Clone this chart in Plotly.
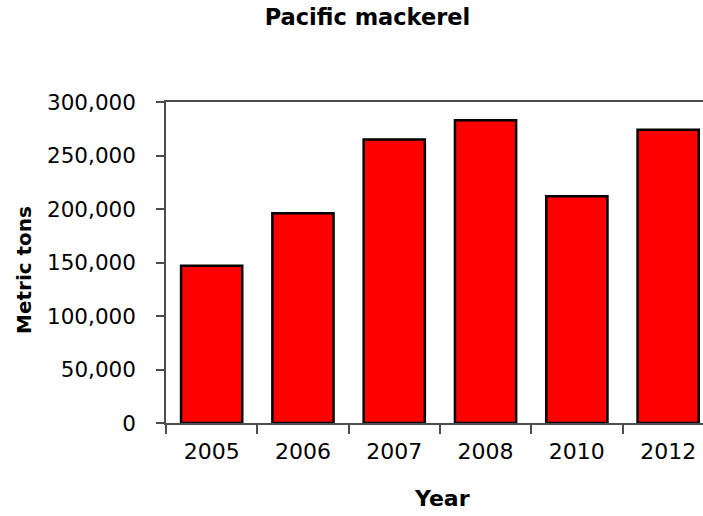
import plotly.graph_objects as go

# Pacific mackerel landings by year (metric tons)
years = ["2005", "2006", "2007", "2008", "2010", "2012"]
tons = [147000, 196000, 265000, 283000, 212000, 274000]
y_ticks = [0, 50000, 100000, 150000, 200000, 250000, 300000]
y_tick_text = ["0", "50,000", "100,000", "150,000", "200,000", "250,000", "300,000"]

FONT = "DejaVu Sans, Liberation Sans, Arial, sans-serif"
W, H = 703, 516
ML, MT, MB, MR = 166, 102, 93, 0

fig = go.Figure(
    go.Bar(
        x=years,
        y=tons,
        marker=dict(color="#FF0000", line=dict(color="#000000", width=2.5)),
    )
)

# full category slot is ~91 px; the last slot runs a little past the page edge
slot = 91.3
x_hi = -0.5 + (W - ML) / slot

fig.update_layout(
    width=W,
    height=H,
    margin=dict(l=ML, r=MR, t=MT, b=MB, pad=0),
    paper_bgcolor="white",
    plot_bgcolor="white",
    bargap=0.33,
    showlegend=False,
    font=dict(family=FONT, color="#000000"),
    title=dict(
        text="<b>Pacific mackerel</b>",
        font=dict(family=FONT, size=22.5, color="#000000"),
        x=367.5 / W,
        xanchor="center",
        y=1 - 17 / H,
        yanchor="middle",
    ),
    xaxis=dict(
        type="category",
        range=[-0.5, x_hi],
        showline=True,
        linecolor="#4d4d4d",
        linewidth=1.5,
        mirror=True,
        ticks="outside",
        tickson="boundaries",
        ticklen=9,
        tickwidth=1.5,
        tickcolor="#4d4d4d",
        showgrid=False,
        tickfont=dict(family=FONT, size=22, color="#000000"),
        ticklabelstandoff=8,
    ),
    yaxis=dict(
        range=[0, 300000],
        tickvals=y_ticks,
        ticktext=y_tick_text,
        showline=True,
        linecolor="#4d4d4d",
        linewidth=1.5,
        ticks="outside",
        ticklen=8,
        tickwidth=1.5,
        tickcolor="#4d4d4d",
        showgrid=False,
        zeroline=False,
        tickfont=dict(family=FONT, size=21.5, color="#000000"),
        ticklabelstandoff=16,
    ),
    annotations=[
        dict(
            text="<b>Metric tons</b>",
            xref="paper",
            yref="paper",
            x=(24 - ML) / (W - ML - MR),
            y=(H - MB - 270) / (H - MT - MB),
            xanchor="center",
            yanchor="middle",
            textangle=-90,
            showarrow=False,
            font=dict(family=FONT, size=20, color="#000000"),
        ),
        dict(
            text="<b>Year</b>",
            xref="paper",
            yref="paper",
            x=(442 - ML) / (W - ML - MR),
            y=(H - MB - 498) / (H - MT - MB),
            xanchor="center",
            yanchor="middle",
            showarrow=False,
            font=dict(family=FONT, size=22, color="#000000"),
        ),
    ],
)

fig.write_html("out.html")
